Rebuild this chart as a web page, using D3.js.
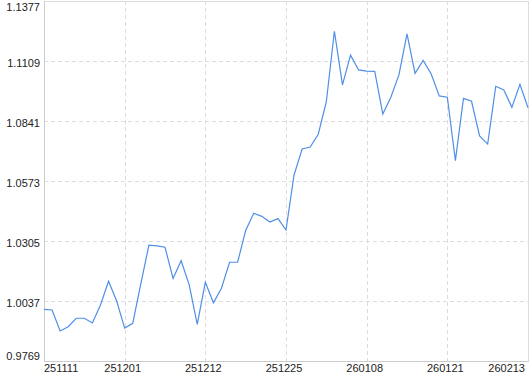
<!DOCTYPE html>
<html><head><meta charset="utf-8">
<script src="https://cdn.jsdelivr.net/npm/d3@7"></script>
<style>html,body{margin:0;padding:0;background:#fff;}svg{display:block;}</style>
</head><body>
<svg id="chart" width="530" height="374"></svg>
<script>
const values = [1.0000, 0.9997, 0.9903, 0.9922, 0.9960, 0.9960, 0.9939, 1.0019, 1.0125, 1.0038,
  0.9916, 0.9937, 1.0113, 1.0286, 1.0283, 1.0277, 1.0138, 1.0217, 1.0109, 0.9933,
  1.0121, 1.0029, 1.0094, 1.0210, 1.0210, 1.0352, 1.0429, 1.0415, 1.0390, 1.0405,
  1.0354, 1.0600, 1.0716, 1.0725, 1.0782, 1.0927, 1.1242, 1.1002, 1.1135, 1.1069,
  1.1064, 1.1063, 1.0872, 1.0947, 1.1047, 1.1230, 1.1054, 1.1112, 1.1051, 1.0953,
  1.0947, 1.0664, 1.0942, 1.0929, 1.0774, 1.0738, 1.0996, 1.0980, 1.0902, 1.1005,
  1.0900];
const xTickLabels = ['251111', '251201', '251212', '251225', '260108', '260121', '260213'];
const xTickIndex = [0, 10, 20, 30, 40, 50, 60];
const yTicks = [0.9769, 1.0037, 1.0305, 1.0573, 1.0841, 1.1109, 1.1377];

const L = 44, R = 528, T = 1, B = 361;
const svg = d3.select('#chart');
const x = d3.scaleLinear().domain([0, values.length - 1]).range([L, R]);
const y = d3.scaleLinear().domain([yTicks[0], yTicks[yTicks.length - 1]]).range([B, T]);
const font = '"Liberation Sans", Arial, sans-serif';

// horizontal grid
svg.append('g').selectAll('line').data(yTicks.slice(1, -1)).join('line')
  .attr('x1', L).attr('x2', R)
  .attr('y1', d => Math.round(y(d)) + 0.5).attr('y2', d => Math.round(y(d)) + 0.5)
  .attr('stroke', '#dcdcdc').attr('stroke-dasharray', '4,3');
// vertical grid
svg.append('g').selectAll('line').data(xTickIndex.slice(1, -1)).join('line')
  .attr('x1', d => Math.round(x(d)) + 0.5).attr('x2', d => Math.round(x(d)) + 0.5)
  .attr('y1', T).attr('y2', B)
  .attr('stroke', '#dcdcdc').attr('stroke-dasharray', '4,3');

// frame
svg.append('rect').attr('x', L + 0.5).attr('y', T + 0.5).attr('width', R - L).attr('height', B - T)
  .attr('fill', 'none').attr('stroke', '#dddddd');
svg.append('line').attr('x1', L + 0.5).attr('x2', L + 0.5).attr('y1', T).attr('y2', B + 1)
  .attr('stroke', '#cccccc');
svg.append('line').attr('x1', L).attr('x2', R + 1).attr('y1', B + 0.5).attr('y2', B + 0.5)
  .attr('stroke', '#cccccc');

// y labels
svg.append('g').selectAll('text').data(yTicks).join('text')
  .attr('x', 40)
  .attr('y', d => Math.max(11, Math.min(360, y(d) + 6)))
  .attr('text-anchor', 'end')
  .attr('font-family', font).attr('font-size', 11).attr('fill', '#222')
  .text(d => d.toFixed(4));

// x labels
svg.append('g').selectAll('text').data(xTickIndex).join('text')
  .attr('x', (d, i) => i === 0 ? L : (i === xTickIndex.length - 1 ? R - 3 : x(d) - 2))
  .attr('y', 372)
  .attr('text-anchor', (d, i) => i === 0 ? 'start' : (i === xTickIndex.length - 1 ? 'end' : 'middle'))
  .attr('font-family', font).attr('font-size', 11).attr('fill', '#222')
  .text((d, i) => xTickLabels[i]);

// line
const line = d3.line().x((d, i) => x(i)).y(d => y(d));
svg.append('path').datum(values)
  .attr('d', line).attr('fill', 'none')
  .attr('stroke', '#4f8fe6').attr('stroke-width', 1.2).attr('stroke-linejoin', 'miter');
</script>
</body></html>
